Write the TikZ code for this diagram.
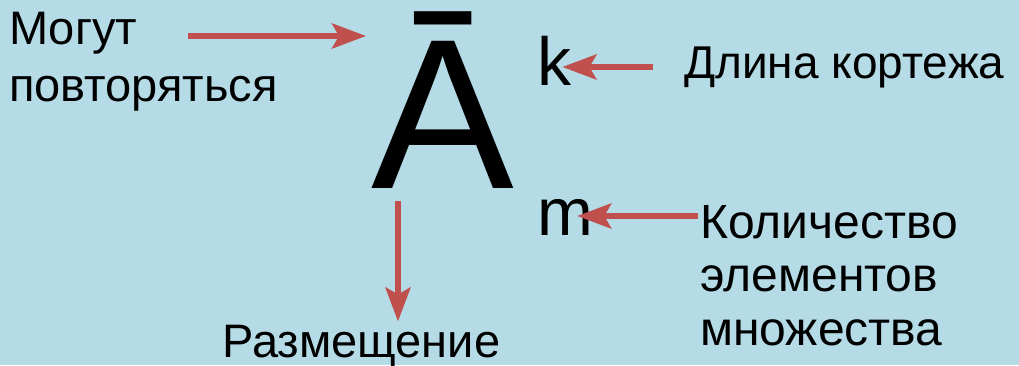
\documentclass[tikz,border=0pt]{standalone}
\usepackage{fontspec}
\setmainfont{Liberation Sans}
\usetikzlibrary{positioning,arrows.meta}
\definecolor{slidebg}{RGB}{181,220,230}
\definecolor{arrowred}{RGB}{192,80,77}

\begin{document}
\begin{tikzpicture}[x=1pt, y=-1pt,
  lbl/.style={inner sep=0pt, anchor=north west, align=left},
  sym/.style={inner sep=0pt, anchor=base west},
  arrow/.style={-{Stealth[length=34pt,width=25pt,inset=7pt]}, line width=5.5pt, draw=arrowred}
]
\fill[slidebg] (0,0) rectangle (1019,365);
\useasboundingbox (0,0) rectangle (1019,365);

% symbol and its parameters
\node[sym, font=\fontsize{214}{214}\selectfont] (bigA) at (371,188) {Ā};
\node[sym, font=\fontsize{68}{68}\selectfont] (kSym) at (537,85) {k};
\node[sym, font=\fontsize{67}{67}\selectfont] (mSym) at (537,235) {m};

% labels
\node[lbl, font=\fontsize{47}{57}\selectfont] (repLbl) at (9,12) {Могут\\повторяться};
\node[sym, font=\fontsize{46}{46}\selectfont] (lenLbl) at (684,78) {Длина кортежа};
\node[lbl, font=\fontsize{48}{53.5}\selectfont] (cntLbl) at (700,205) {Количество\\элементов\\множества};
\node[sym, font=\fontsize{47}{47}\selectfont] (placeLbl) at (222,357) {Размещение};

% arrows
\coordinate (repTail) at (188,36);
\coordinate (kTail) at (653,67);
\coordinate (mTail) at (698,216);
\coordinate (aTail) at (398,201);
\draw[arrow, shorten >=5pt] (repTail) -- (repTail -| bigA.west);
\draw[arrow, shorten >=-9pt] (kTail) -- (kTail -| kSym.east);
\draw[arrow, shorten >=-16pt] (mTail) -- (mTail -| mSym.east);
\draw[arrow, shorten >=3pt] (aTail) -- (aTail |- placeLbl.north);
\end{tikzpicture}
\end{document}
